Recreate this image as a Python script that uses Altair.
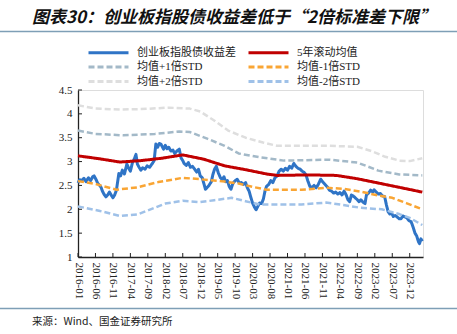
import altair as alt
import pandas as pd

# ---------------- data (x = months since 2016-01) ----------------
blue_m = [0, 0.5, 1, 1.7, 2.3, 3, 3.6, 4.2, 4.6, 5.2, 5.6, 6.2, 6.6, 7.0, 7.5, 8.0, 8.5, 9.0, 9.5, 10.0,
          10.5, 11.0, 11.3, 11.7, 12.2, 12.7, 13.3, 14.0, 14.5, 15.0, 15.6, 16.1, 16.6, 17.0, 17.5, 18.0,
          18.5, 19.2, 19.8, 20.5, 21.2, 21.8, 22.3, 22.8, 23.3, 23.8, 24.5, 25.0, 25.5, 26.0, 26.6, 27.2,
          27.7, 28.3, 29.0, 29.5, 30.0, 30.4, 31.0, 31.6, 32.2, 32.8, 33.4, 34.0, 34.5, 35.0, 35.6, 36.0,
          36.5, 37.0, 37.5, 38.2, 38.6, 39.1, 39.6, 40.2, 40.8, 41.3, 41.8, 42.3, 42.8, 43.3, 43.8, 44.4,
          45.0, 45.6, 46.2, 46.8, 47.4, 48.0, 48.5, 49.0, 49.5, 50.0, 50.5, 51.0, 51.5, 52.0, 52.6, 53.1,
          53.6, 54.0, 54.6, 55.2, 55.8, 56.4, 57.0, 57.6, 58.2, 58.8, 59.4, 60.0, 60.6, 61.2, 61.8, 62.4,
          63.0, 63.6, 64.2, 64.8, 65.3, 65.8, 66.4, 67.0, 67.6, 68.2, 68.8, 69.5, 70.0, 70.5, 71.0, 71.5,
          72.0, 72.6, 73.2, 73.8, 74.4, 75.0, 75.6, 76.2, 76.8, 77.3, 77.8, 78.3, 78.8, 79.4, 80.0, 80.5,
          81.0, 81.6, 82.2, 82.6, 83.2, 83.8, 84.4, 84.8, 85.4, 86.0, 86.6, 87.2, 87.8, 88.3, 88.8, 89.3,
          89.8, 90.3, 90.8, 91.4, 92.0, 92.5, 93.0, 93.6, 94.2, 94.8, 95.4, 96.0, 96.5, 97.0, 97.5, 97.8,
          98.2, 98.6]
blue_v = [2.55, 2.62, 2.60, 2.65, 2.58, 2.66, 2.60, 2.68, 2.70, 2.62, 2.55, 2.50, 2.46, 2.38, 2.31, 2.26,
          2.30, 2.36, 2.30, 2.24, 2.30, 2.40, 2.55, 2.75, 2.70, 2.82, 2.74, 2.95, 2.86, 2.80, 2.98, 3.05,
          3.15, 2.95, 2.88, 2.82, 2.87, 2.84, 2.91, 2.88, 2.95, 3.02, 3.37, 3.30, 3.38, 3.36, 3.26, 3.34,
          3.27, 3.30, 3.22, 3.24, 3.17, 3.22, 3.26, 3.08, 3.02, 2.96, 2.92, 2.98, 2.88, 2.90, 2.84, 2.78,
          2.84, 2.70, 2.66, 2.55, 2.42, 2.46, 2.50, 2.58, 2.72, 2.84, 2.90, 2.76, 2.66, 2.62, 2.68, 2.58,
          2.60, 2.48, 2.42, 2.55, 2.60, 2.63, 2.55, 2.56, 2.52, 2.56, 2.45, 2.38, 2.25, 2.13, 2.05, 1.99,
          2.06, 2.13, 2.12, 2.22, 2.40, 2.48, 2.52, 2.60, 2.56, 2.66, 2.70, 2.80, 2.84, 2.80, 2.86, 2.82,
          2.90, 2.86, 2.96, 2.90, 2.86, 2.84, 2.80, 2.77, 2.72, 2.60, 2.48, 2.46, 2.50, 2.45, 2.52, 2.63,
          2.58, 2.54, 2.50, 2.46, 2.40, 2.38, 2.34, 2.36, 2.32, 2.35, 2.30, 2.38, 2.30, 2.20, 2.16, 2.30,
          2.28, 2.24, 2.20, 2.16, 2.20, 2.15, 2.12, 2.30, 2.34, 2.40, 2.36, 2.41, 2.36, 2.32, 2.33, 2.28,
          2.27, 2.10, 1.95, 1.90, 1.92, 1.85, 1.87, 1.84, 1.80, 1.80, 1.86, 1.84, 1.82, 1.76, 1.74, 1.62,
          1.50, 1.44, 1.32, 1.28, 1.38, 1.33]

mean_m = [0, 6, 12, 18, 24, 30, 36, 42, 48, 54, 57, 66, 74, 80, 86, 92, 98.6]
mean_v = [3.12, 3.06, 2.99, 3.02, 3.07, 3.14, 3.05, 2.91, 2.83, 2.74, 2.71, 2.72, 2.71, 2.64, 2.55, 2.46, 2.36]

p1_m = [0, 5, 13, 22, 29, 32, 37, 42, 46, 52, 59, 72, 80, 86, 92, 98.6]
p1_v = [3.65, 3.58, 3.55, 3.58, 3.63, 3.62, 3.48, 3.33, 3.17, 3.09, 3.02, 3.04, 2.98, 2.81, 2.73, 2.71]

m1_m = [0, 5, 11, 17, 23, 30, 35, 42, 46, 50, 54, 64, 71, 76, 81, 86, 90, 94, 98.6]
m1_v = [2.59, 2.53, 2.41, 2.46, 2.57, 2.66, 2.63, 2.58, 2.54, 2.47, 2.41, 2.41, 2.45, 2.43, 2.37, 2.29,
        2.24, 2.13, 2.00]

p2_m = [0, 5, 12, 18, 26, 32, 35, 39, 43, 48, 53, 57, 65, 72, 80, 84, 88, 92, 95, 98.6]
p2_v = [4.18, 4.11, 4.09, 4.10, 4.13, 4.11, 4.05, 3.86, 3.65, 3.50, 3.40, 3.33, 3.33, 3.33, 3.31, 3.22,
        3.10, 3.02, 3.01, 3.07]

m2_m = [0, 6, 12, 17, 25, 30, 35, 39, 44, 48, 52, 64, 71, 76, 81, 87, 92, 95, 98.6]
m2_v = [2.06, 1.97, 1.86, 1.89, 2.12, 2.18, 2.15, 2.19, 2.24, 2.17, 2.10, 2.10, 2.14, 2.09, 2.03, 2.00,
        1.90, 1.82, 1.67]

# drawing order (Excel series order)
series_names = ["创业板指股债收益差", "5年滚动均值", "均值+1倍STD", "均值-1倍STD", "均值+2倍STD", "均值-2倍STD"]
series_colors = ["#2f74c6", "#c00000", "#a3b9c8", "#f9a534", "#dedede", "#9fc1e8"]
series_dash = [[1, 0], [1, 0], [6, 3], [6, 3], [6, 3], [6, 3]]
# legend is filled column by column: left column first
legend_order = [0, 2, 4, 1, 3, 5]

x_tick_pos = [0, 5, 10, 15, 20, 25, 30, 35, 40, 45, 50, 55, 60, 65, 70, 75, 80, 85, 90, 95]
x_tick_labels = ["2016-01", "2016-06", "2016-11", "2017-04", "2017-09", "2018-02", "2018-07",
                 "2018-12", "2019-05", "2019-10", "2020-03", "2020-08", "2021-01", "2021-06",
                 "2021-11", "2022-04", "2022-09", "2023-02", "2023-07", "2023-12"]
y_ticks = [1, 1.5, 2, 2.5, 3, 3.5, 4, 4.5]

title_text = "图表30：创业板指股债收益差低于“2倍标准差下限”"
source_text = "来源：Wind、国金证券研究所"

# ---------------- build ----------------
rows = []
for name, ms, vs in zip(series_names,
                        [blue_m, mean_m, p1_m, m1_m, p2_m, m2_m],
                        [blue_v, mean_v, p1_v, m1_v, p2_v, m2_v]):
    for m, v in zip(ms, vs):
        rows.append({"series": name, "m": m, "v": v})
df = pd.DataFrame(rows)

W, H = 345, 167
SERIF = "Liberation Serif, Noto Sans CJK SC"

xscale = alt.Scale(domain=[0, 98.8], nice=False, zero=False)
yscale = alt.Scale(domain=[1, 4.5], nice=False, zero=False)

label_arr = "[" + ",".join("'%s'" % s for s in x_tick_labels) + "]"

# legend symbol: a 40px line drawn from a path scaled by sqrt(size)/2 = 5
leg = alt.Legend(orient="none", legendX=24, legendY=-44, columns=2, title=None,
                 symbolType="M-4,0H4", symbolSize=100, symbolStrokeWidth=3,
                 labelFont=SERIF, labelFontSize=11, labelColor="#222",
                 labelOffset=22, columnPadding=6, rowPadding=1.5, padding=0,
                 labelLimit=300)

dom = [series_names[i] for i in legend_order]
col = [series_colors[i] for i in legend_order]
dsh = [series_dash[i] for i in legend_order]
color = alt.Color("series:N", scale=alt.Scale(domain=dom, range=col), legend=leg)
dash = alt.StrokeDash("series:N", scale=alt.Scale(domain=dom, range=dsh), legend=leg)

x_axis = alt.Axis(values=x_tick_pos, labelExpr=label_arr + "[round(datum.value/5)]",
                  labelAngle=90, labelAlign="left", labelBaseline="middle",
                  labelPadding=5, labelFont=SERIF, labelFontSize=11, labelColor="#222",
                  labelOverlap=False, labelFlush=False,
                  ticks=False, domainColor="#222", domainWidth=1.3, grid=False,
                  title=None)
y_axis = alt.Axis(values=y_ticks, format="~g", labelPadding=6, labelFont=SERIF,
                  labelFontSize=11, labelColor="#222", ticks=False,
                  labelOverlap=False, labelFlush=False,
                  domainColor="#222", domainWidth=1.3, grid=False, title=None)

layers = []
for i, name in enumerate(series_names):
    w = 3 if i < 2 else 2.5
    layers.append(
        alt.Chart(df).transform_filter(alt.datum.series == name)
        .mark_line(strokeWidth=w, strokeJoin="round")
        .encode(x=alt.X("m:Q", scale=xscale, axis=x_axis),
                y=alt.Y("v:Q", scale=yscale, axis=y_axis),
                color=color, strokeDash=dash)
    )

xt = pd.DataFrame({"m": x_tick_pos})
x_ticks = alt.Chart(xt).mark_rule(color="#222", strokeWidth=1).encode(
    x=alt.X("m:Q", scale=xscale, axis=x_axis), y=alt.value(H), y2=alt.value(H - 4))
yt = pd.DataFrame({"v": y_ticks})
y_ticks_l = alt.Chart(yt).mark_rule(color="#222", strokeWidth=1).encode(
    y=alt.Y("v:Q", scale=yscale, axis=y_axis), x=alt.value(0), x2=alt.value(4))

title_l = alt.Chart(pd.DataFrame({"t": [title_text]})).mark_text(
    font="Noto Sans CJK SC", fontSize=17, fontWeight="bold", fontStyle="italic",
    align="left", baseline="middle", color="#111").encode(
    text="t:N", x=alt.value(-46), y=alt.value(-72))
source_l = alt.Chart(pd.DataFrame({"t": [source_text]})).mark_text(
    font="Noto Sans CJK SC", fontSize=10.5, align="left", baseline="middle", color="#222").encode(
    text="t:N", x=alt.value(-46), y=alt.value(232))
top_rule = alt.Chart(pd.DataFrame({"a": [0]})).mark_rule(color="#7e9fb6", strokeWidth=1.5).encode(
    x=alt.value(-78), x2=alt.value(379), y=alt.value(-58.5))
bot_rule = alt.Chart(pd.DataFrame({"a": [0]})).mark_rule(color="#7e9fb6", strokeWidth=1.5).encode(
    x=alt.value(-78), x2=alt.value(379), y=alt.value(218.5))

chart = alt.layer(*layers, x_ticks, y_ticks_l, title_l, source_l, top_rule, bot_rule).properties(
    width=W, height=H,
    autosize=alt.AutoSizeParams(type="none"),
    padding={"left": 78, "top": 90, "right": 34, "bottom": 77},
).configure_view(stroke=None).configure(background="white")

chart.save("out.html", embed_options={"renderer": "svg", "actions": False})
